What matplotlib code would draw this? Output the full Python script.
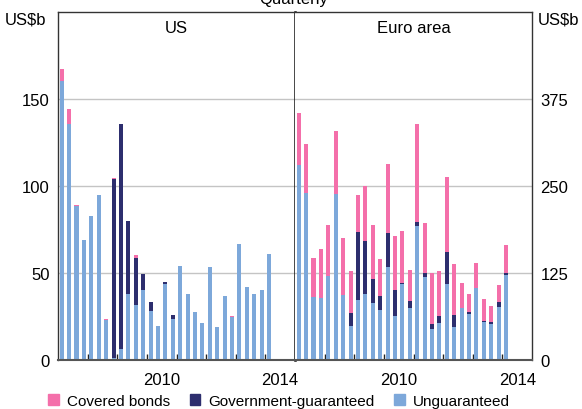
import matplotlib.pyplot as plt
import numpy as np

plt.rcParams['font.family'] = ['Liberation Sans', 'DejaVu Sans']

# quarterly, 2007 Q1 to 2014 Q1
quarters = 29
us_covered = [6.7, 8.6, 0.8, 0, 0.4, 0, 0.5, 0.8, 0, 0, 1.7, 0, 0, 0, 0.5,
              0, 0, 0, 0, 0, 0, 0, 0, 0.7, 0, 0, 0, 0, 0]
us_gov = [0, 0, 0, 0, 0, 0, 0, 103, 129.7, 42.4, 27.5, 9.7, 5.2, 0, 1.2,
          2.3, 0, 0, 0, 0, 0, 0, 0, 0, 0, 0, 0, 0, 0]
us_unguar = [160.5, 135.8, 88.5, 69.2, 82.6, 95, 22.8, 1, 6.1, 37.7, 31.4, 40, 27.9, 19.5, 43.4,
             23.5, 54.3, 38.2, 27.3, 21, 53.2, 18.7, 36.5, 24.5, 66.9, 41.7, 38.2, 40.5, 61.2]

eu_covered = [74.2, 69.9, 55.6, 70.4, 73.3, 90.5, 81.4, 60.4, 53.2, 79, 77.6, 53.1, 99.1, 77.6, 74.7,
              44.5, 140.8, 71.8, 73.3, 64.7, 107.7, 73.2, 35.9, 25.8, 36, 31.1, 23, 24.5, 40.2]
eu_gov = [0, 0, 0, 0, 0, 0, 0, 18.6, 97.7, 76.2, 34.5, 20.2, 48.9, 37.4, 1.4,
          10.1, 5.8, 5.7, 7.2, 10, 46, 17.3, 0, 2.9, 0, 1.9, 2.9, 7.2, 2.9]
eu_unguar = [280.7, 240.4, 91, 89.1, 120.7, 238.5, 93.9, 48.9, 86.2, 94.8, 81.9, 71.8, 133.6, 63.2, 109.2,
             74.7, 192.5, 119.3, 44.5, 53.2, 109.2, 47.4, 74.7, 66.1, 103.4, 54.6, 51.7, 76.1, 122.1]

pink = '#F46FAA'
navy = '#2D2E6E'
blue = '#7DA8DA'

x = 2007 + (np.arange(quarters) + 0.5) / 4
w = 0.55 / 4

fig = plt.figure(figsize=(5.82, 4.10), dpi=100)
ax1 = fig.add_axes([58/582, 1-361/410, 237/582, 348/410])
ax2 = fig.add_axes([295/582, 1-361/410, 237/582, 348/410])


def draw(ax, unguar, gov, cov, ymax, yticks):
    unguar = np.array(unguar)
    gov = np.array(gov)
    ax.bar(x, unguar, w, color=blue, zorder=2)
    ax.bar(x, gov, w, bottom=unguar, color=navy, zorder=2)
    ax.bar(x, cov, w, bottom=unguar + gov, color=pink, zorder=2)
    ax.set_xlim(2007, 2015)
    ax.set_ylim(0, ymax)
    ax.set_yticks(yticks)
    ax.grid(axis='y', color='#C4C4C4', linewidth=1, zorder=0)
    ax.set_xticks(range(2008, 2015))
    ax.set_xticklabels([])
    ax.tick_params(axis='x', direction='in', length=4, width=1, color='#222222')
    ax.set_xticks([2010.5, 2014.5], minor=True)
    ax.set_xticklabels(['2010', '2014'], minor=True, fontsize=12)
    ax.tick_params(axis='x', which='minor', length=0, pad=9)
    ax.tick_params(axis='y', length=0, labelsize=12, pad=6)
    for s in ax.spines.values():
        s.set_color('#333333')
        s.set_linewidth(1)
    ax.spines['bottom'].set_color('#555555')
    ax.spines['bottom'].set_linewidth(1.5)


draw(ax1, us_unguar, us_gov, us_covered, 200, [0, 50, 100, 150])
draw(ax2, eu_unguar, eu_gov, eu_covered, 500, [0, 125, 250, 375])

ax1.spines['right'].set_color('#111111')
ax1.spines['right'].set_linewidth(1.8)
ax2.spines['left'].set_visible(False)
ax2.yaxis.tick_right()

ax1.text(0.5, 0.955, 'US', transform=ax1.transAxes, ha='center', va='center', fontsize=12)
ax2.text(0.5, 0.955, 'Euro area', transform=ax2.transAxes, ha='center', va='center', fontsize=12)

fig.text(5/582, 1-20/410, 'US$b', ha='left', va='center', fontsize=12)
fig.text(538/582, 1-20/410, 'US$b', ha='left', va='center', fontsize=12)
fig.text(294/582, 1-4/410, 'Quarterly', ha='center', va='baseline', fontsize=12)

handles = [plt.Rectangle((0, 0), 1, 1, color=c) for c in (pink, navy, blue)]
fig.legend(handles, ['Covered bonds', 'Government-guaranteed', 'Unguaranteed'],
           loc='center', bbox_to_anchor=(279/582, 1-402/410), ncol=3, frameon=False,
           fontsize=11, handlelength=0.7, handleheight=0.7, handletextpad=0.5,
           columnspacing=1.3, borderpad=0)

fig.savefig('out.png', dpi=100)
